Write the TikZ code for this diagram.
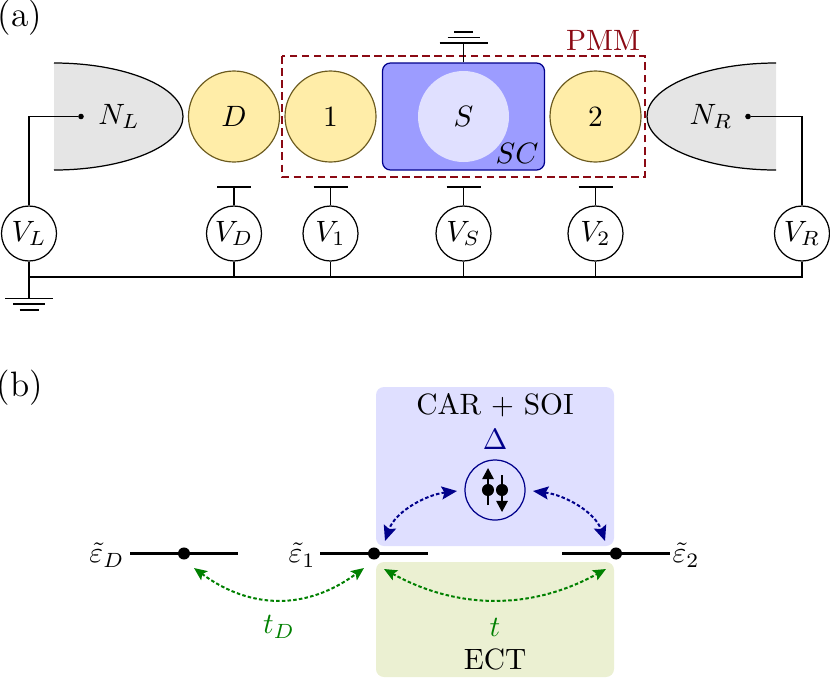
\documentclass[tikz,border=0pt]{standalone}
\usetikzlibrary{arrows.meta}
\definecolor{dotfill}{HTML}{FFEDA8}
\definecolor{dotedge}{HTML}{6B5A1E}
\definecolor{scfill}{HTML}{9C9CFF}
\definecolor{sfill}{HTML}{E0E0FF}
\definecolor{leadfill}{HTML}{E5E5E5}
\definecolor{carfill}{HTML}{DFDFFF}
\definecolor{ectfill}{HTML}{EBF0D2}
\definecolor{pmmred}{HTML}{8B0A14}
\definecolor{arrowgreen}{HTML}{008000}
\definecolor{arrownavy}{HTML}{00008B}
\tikzset{
  wire/.style={line width=0.42pt},
  qdot/.style={circle,draw=dotedge,fill=dotfill,line width=0.4pt,minimum size=30.94pt,inner sep=0pt},
  source/.style={circle,draw=black,fill=white,line width=0.42pt,minimum size=18.7pt,inner sep=0pt},
  lvl/.style={line width=0.8pt},
  pt/.style={circle,fill=black,inner sep=0pt,minimum size=4.1pt},
  lead/.style={circle,fill=black,inner sep=0pt,minimum size=1.9pt},
  greenarrow/.style={arrowgreen,line width=0.68pt,dash pattern=on 1.2pt off 0.75pt,{Stealth[length=4.4pt,width=3.8pt,inset=0.9pt]}-{Stealth[length=4.4pt,width=3.8pt,inset=0.9pt]}},
  navyarrow/.style={arrownavy,line width=0.68pt,dash pattern=on 1.2pt off 0.75pt,{Stealth[length=5.2pt,width=4.4pt,inset=0.9pt]}-{Stealth[length=5.2pt,width=4.4pt,inset=0.9pt]}},
  spin/.style={line width=0.6pt,-{Stealth[length=3.8pt,width=3.9pt,inset=0pt]}},
}
\begin{document}
\begin{tikzpicture}[x=0.34pt,y=-0.34pt]
\useasboundingbox (0,0) rectangle (830,677);
% --- panel (a)
\node (labA) at (20,18) {\large (a)};
\fill[leadfill] (54,63) .. controls (125,63) and (183,87) .. (183,116.5) .. controls (183,146) and (125,170) .. (54,170) -- cycle;
\draw[wire] (54,63) .. controls (125,63) and (183,87) .. (183,116.5) .. controls (183,146) and (125,170) .. (54,170);
\fill[leadfill] (776,63) .. controls (705,63) and (647,87) .. (647,116.5) .. controls (647,146) and (705,170) .. (776,170) -- cycle;
\draw[wire] (776,63) .. controls (705,63) and (647,87) .. (647,116.5) .. controls (647,146) and (705,170) .. (776,170);
\node (NL) at (119,116.5) {$N_L$};
\node (NR) at (711,116.5) {$N_R$};
\node[lead] (dotL) at (81,116.5) {};
\node[lead] (dotR) at (748,116.5) {};
\node[qdot] (D) at (234,116.5) {$D$};
\node[qdot] (one) at (330.5,116.5) {1};
\node[qdot] (two) at (595.5,116.5) {2};
\node[draw=arrownavy,fill=scfill,line width=0.42pt,rounded corners=2.7pt,minimum width=55.08pt,minimum height=36.38pt,inner sep=0pt] (SCbox) at (463.5,116.5) {};
\node[circle,fill=sfill,minimum size=30.94pt,inner sep=0pt] (S) at (463.5,116.5) {$S$};
\node (SC) at (517,153) {$SC$};
\draw[pmmred,line width=0.6pt,dash pattern=on 2.6pt off 1.5pt] (282,56) rectangle (645,177);
\node[pmmred] (PMM) at (603,40) {PMM};
% sources
\node[source] (VL) at (29,233.5) {$V_L$};
\node[source] (VD) at (234,233.5) {$V_D$};
\node[source] (V1) at (330.5,233.5) {$V_1$};
\node[source] (VS) at (463.5,233.5) {$V_S$};
\node[source] (V2) at (595.5,233.5) {$V_2$};
\node[source] (VR) at (802,233.5) {$V_R$};
\draw[wire] (dotL) -| (VL);
\draw[wire] (dotR) -| (VR);
% gates
\foreach \n/\x in {VD/234,V1/330.5,VS/463.5,V2/595.5}{
  \coordinate (g\n) at (\x,187);
  \coordinate (b\n) at (\x,277);
  \draw[wire] (\n) -- (g\n);
  \draw[wire] (\n) -- (b\n);
  \draw[wire] ([xshift=-17*0.34pt]g\n) -- ([xshift=17*0.34pt]g\n);
}
% common line and grounds
\coordinate (busL) at (29,277);
\coordinate (busR) at (802,277);
\draw[wire] (VL) -- (busL) -- (busR) -- (VR);
\coordinate (gndA) at (29,298.5);
\draw[wire] (busL) -- (gndA);
\draw[wire] (5,298.5) -- (53,298.5) (13,304) -- (45,304) (19.5,310) -- (38.5,310);
\coordinate (gndB) at (463.5,43);
\draw[wire] (SCbox.north) -- (gndB);
\draw[wire] (439.5,43) -- (487.5,43) (447.5,37.5) -- (479.5,37.5) (454,32) -- (473,32);
% --- panel (b)
\node (labB) at (20,388) {\large (b)};
\fill[carfill,rounded corners=2.7pt] (376,387) rectangle (614,546);
\fill[ectfill,rounded corners=2.7pt] (376,562) rectangle (614,677);
\node (car) at (495,405) {CAR + SOI};
\node[arrownavy] (delta) at (495,439) {$\Delta$};
\node[circle,draw=arrownavy,line width=0.42pt,minimum size=20.4pt,inner sep=0pt] (pair) at (495,490) {};
\node[pt] (eL) at (488,490) {};
\node[pt] (eR) at (502,490) {};
\coordinate (sLa) at (488,505);
\coordinate (sLb) at (488,468);
\coordinate (sRa) at (502,475);
\coordinate (sRb) at (502,512);
\draw[spin] (sLa) -- (sLb);
\draw[spin] (sRa) -- (sRb);
% levels
\coordinate (lDa) at (130,553.5); \coordinate (lDb) at (238,553.5);
\coordinate (l1a) at (320,553.5); \coordinate (l1b) at (428,553.5);
\coordinate (l2a) at (562,553.5); \coordinate (l2b) at (670,553.5);
\draw[lvl] (lDa) -- (lDb);
\draw[lvl] (l1a) -- (l1b);
\draw[lvl] (l2a) -- (l2b);
\node[pt] (pD) at (184,553.5) {};
\node[pt] (p1) at (374,553.5) {};
\node[pt] (p2) at (616,553.5) {};
\node (eD) at (107,555) {$\tilde\varepsilon_D$};
\node (e1) at (302,555) {$\tilde\varepsilon_1$};
\node (e2) at (686,555) {$\tilde\varepsilon_2$};
% arrows
\coordinate (nLt) at (457,491); \coordinate (nLb) at (385,541);
\coordinate (nRt) at (533,491); \coordinate (nRb) at (605,541);
\draw[navyarrow] (nLt) .. controls (425,495) and (395,512) .. (nLb);
\draw[navyarrow] (nRt) .. controls (565,495) and (595,512) .. (nRb);
\coordinate (gDa) at (194,568); \coordinate (gDb) at (364,568);
\coordinate (g1a) at (384,569); \coordinate (g1b) at (606,569);
\draw[greenarrow] (gDa) .. controls (251,610) and (307,610) .. (gDb);
\draw[greenarrow] (g1a) .. controls (458,610) and (532,610) .. (g1b);
\node[arrowgreen] (tD) at (279,627) {$t_D$};
\node[arrowgreen] (t) at (495,627) {$t$};
\node (ect) at (495,659) {ECT};
\end{tikzpicture}
\end{document}
